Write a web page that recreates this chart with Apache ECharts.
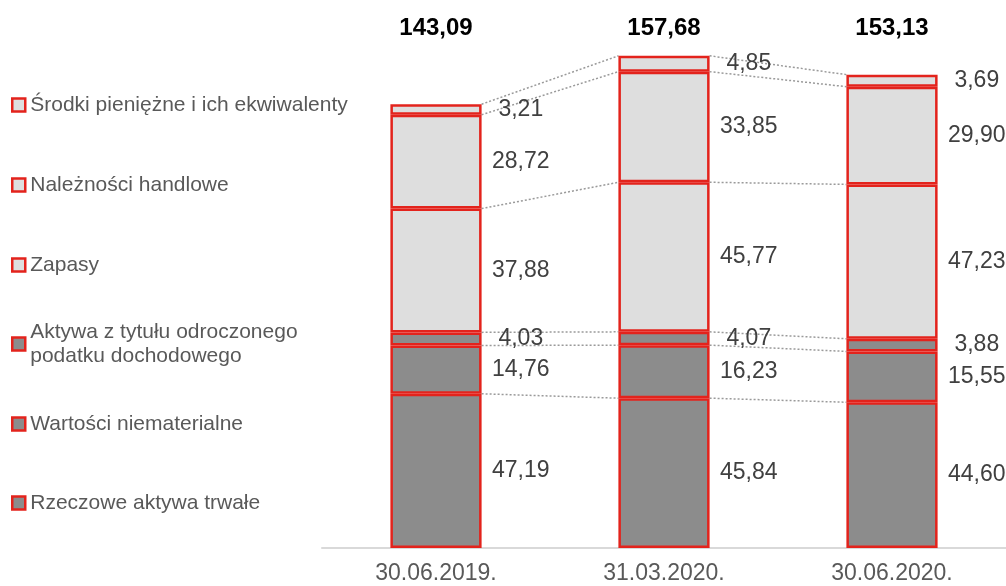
<!DOCTYPE html>
<html>
<head>
<meta charset="utf-8">
<script src="https://cdn.jsdelivr.net/npm/echarts@6/dist/echarts.min.js"></script>
<style>html,body{margin:0;padding:0;background:#fff;}#c{width:1006px;height:586px;}</style>
</head>
<body>
<div id="c"></div>
<script>
const categories = ['30.06.2019.', '31.03.2020.', '30.06.2020.'];
const totals = [143.09, 157.68, 153.13];
const rzeczowe = [47.19, 45.84, 44.60];
const wartosci = [14.76, 16.23, 15.55];
const aktywaPod = [4.03, 4.07, 3.88];
const zapasy = [37.88, 45.77, 47.23];
const naleznosci = [28.72, 33.85, 29.90];
const srodki = [3.21, 4.85, 3.69];

const names = ['Rzeczowe aktywa trwałe', 'Wartości niematerialne', 'Aktywa z tytułu odroczonego podatku dochodowego', 'Zapasy', 'Należności handlowe', 'Środki pieniężne i ich ekwiwalenty'];
const stackData = [rzeczowe, wartosci, aktywaPod, zapasy, naleznosci, srodki];
const fills = ['#8c8c8c', '#8c8c8c', '#8c8c8c', '#dedede', '#dedede', '#dedede'];

const fmt = v => v.toFixed(2).replace('.', ',');
const FONT = 'Liberation Sans, Arial, sans-serif';
const RED = '#e3231c';

// cumulative boundaries
const cum = [];
let run = categories.map(() => 0);
stackData.forEach(arr => { run = run.map((r, i) => r + arr[i]); cum.push(run.slice()); });
const connData = [];
cum.forEach(c => { for (let i = 0; i < c.length - 1; i++) connData.push([i, c[i], c[i + 1]]); });

const barSeries = stackData.map((arr, k) => ({
  name: names[k], type: 'bar', stack: 'a', barWidth: '40%', xAxisIndex: 0,
  data: arr,
  itemStyle: { color: fills[k], borderColor: RED, borderWidth: 2.5 },
  label: { show: true, position: ['143%', '50%'], align: 'center', verticalAlign: 'middle',
    formatter: p => fmt(p.value), fontSize: 23, color: '#404040', fontFamily: FONT },
  emphasis: { disabled: true }
}));

const legendTops = [486, 407, 303, 248, 168, 88];
const legends = names.map((n, k) => ({
  data: [{ name: n, icon: 'rect' }], orient: 'vertical', left: 6, top: legendTops[k],
  itemWidth: 13, itemHeight: 13, itemGap: 0, selectedMode: false,
  formatter: k === 2 ? 'Aktywa z tytułu odroczonego\npodatku dochodowego' : '{name}',
  textStyle: k === 2 ? { fontSize: 21, color: '#595959', fontFamily: FONT, lineHeight: 24, padding: [24, 0, 0, 0] }
                     : { fontSize: 21, color: '#595959', fontFamily: FONT, lineHeight: 24 },
  itemStyle: { borderColor: RED, borderWidth: 2.5 }
}));

const option = {
  animation: false,
  backgroundColor: '#fff',
  grid: { left: 322, right: 0, top: 48, bottom: 38 },
  legend: legends,
  xAxis: [
    { type: 'category', data: categories, position: 'bottom',
      axisLine: { show: true, lineStyle: { color: '#d9d9d9', width: 2 } },
      axisTick: { show: false },
      axisLabel: { fontSize: 23, color: '#595959', fontFamily: FONT, margin: 14 } },
    { type: 'category', data: totals.map(fmt), position: 'top',
      axisLine: { show: false }, axisTick: { show: false },
      axisLabel: { fontSize: 24, fontWeight: 'bold', color: '#000', fontFamily: FONT, margin: 8 } }
  ],
  yAxis: { type: 'value', min: 0, max: 153, show: false, splitLine: { show: false } },
  series: [
    {
      type: 'custom', xAxisIndex: 0, z: 1, silent: true,
      data: connData, encode: { x: 0, y: [1, 2] },
      renderItem: (params, api) => {
        const i = api.value(0);
        const p0 = api.coord([i, api.value(1)]);
        const p1 = api.coord([i + 1, api.value(2)]);
        const hw = api.size([1, 0])[0] * 0.2;
        return { type: 'line', shape: { x1: p0[0] + hw, y1: p0[1], x2: p1[0] - hw, y2: p1[1] },
          style: { stroke: '#9a9a9a', lineWidth: 1.5, lineDash: [2, 2] } };
      }
    }
  ].concat(barSeries)
};
echarts.init(document.getElementById('c')).setOption(option);
</script>
</body>
</html>
